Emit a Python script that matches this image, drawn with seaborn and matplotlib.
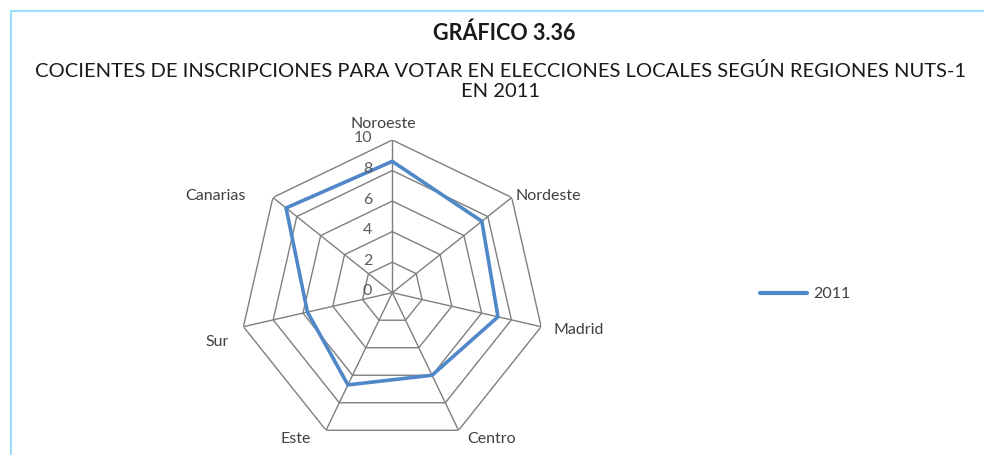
import numpy as np
import matplotlib
matplotlib.use("Agg")
import matplotlib.pyplot as plt
from matplotlib.lines import Line2D
import seaborn as sns
import pandas as pd

# Registration quotients by NUTS-1 region, 2011
regions = ["Noroeste", "Nordeste", "Madrid", "Centro", "Este", "Sur", "Canarias"]
values_2011 = [8.6, 7.5, 7.1, 6.0, 6.7, 5.7, 8.9]
ring_levels = [0, 2, 4, 6, 8, 10]
series_name = "2011"

title = "GRÁFICO 3.36"
subtitle = ("COCIENTES DE INSCRIPCIONES PARA VOTAR EN ELECCIONES LOCALES SEGÚN REGIONES NUTS-1\n"
            "EN 2011")

sns.set_theme(style="white")
plt.rcParams["font.family"] = ["Lato", "DejaVu Sans"]

W, H, DPI = 984, 455, 100
fig = plt.figure(figsize=(W / DPI, H / DPI), dpi=DPI)

# light blue frame along the top and left edges
frame_col = "#8fdcff"
fig.add_artist(Line2D([10.5 / W, 1.0], [1 - 10.5 / H, 1 - 10.5 / H], color=frame_col, lw=1.3))
fig.add_artist(Line2D([10.5 / W, 10.5 / W], [0, 1 - 10.5 / H], color=frame_col, lw=1.3))

# polar axes centred on the radar
cx, cy, R = 392.3, 292.7, 152.7
ax = fig.add_axes([(cx - R) / W, (H - cy - R) / H, 2 * R / W, 2 * R / H], projection="polar")
ax.set_theta_zero_location("N")
ax.set_theta_direction(-1)
ax.set_ylim(0, 10)
ax.grid(False)
ax.spines["polar"].set_visible(False)
ax.set_xticks([])
ax.set_yticks([])
ax.patch.set_alpha(0)

n = len(regions)
angles = np.linspace(0, 2 * np.pi, n, endpoint=False)
closed = np.concatenate([angles, [2 * np.pi]])

grid_col = "#7f7f7f"
for lvl in ring_levels[1:]:
    ax.plot(closed, [lvl] * (n + 1), color=grid_col, lw=1.0, zorder=1)
for a in angles:
    ax.plot([a, a], [0, ring_levels[-1]], color=grid_col, lw=1.0, zorder=1)

df = pd.DataFrame({"theta": closed, "value": values_2011 + values_2011[:1]})
sns.lineplot(data=df, x="theta", y="value", sort=False, estimator=None, ax=ax,
             color="#4f87c9", lw=2.6, zorder=3, legend=False)
ax.set_xlabel("")
ax.set_ylabel("")
ax.set_xticks([])
ax.set_ylim(0, 10)

# radial tick labels next to the first spoke
px = 72 / DPI
for lvl in ring_levels:
    ax.annotate(str(lvl), xy=(0, lvl), xytext=(-20 * px, 1.5 * px), textcoords="offset points",
                ha="right", va="center", fontsize=11.5, color="#595959")

# category labels around the outer ring
label_pos = {
    "Noroeste": ((-9, 16), "center"),
    "Nordeste": ((4, 1), "left"),
    "Madrid": ((12, -3.6), "left"),
    "Centro": ((33, -8.4), "center"),
    "Este": ((-30.4, -8.4), "center"),
    "Sur": ((-15, -15.3), "right"),
    "Canarias": ((-27.7, 1.3), "right"),
}
for a, name in zip(angles, regions):
    (dx, dy), ha = label_pos[name]
    ax.annotate(name, xy=(a, 10), xytext=(dx * px, dy * px), textcoords="offset points",
                ha=ha, va="center", fontsize=11.5, color="#404040", annotation_clip=False)

# titles
fig.text(504 / W, 1 - 33 / H, title, ha="center", va="center", fontsize=15.5,
         fontweight="bold", color="#1a1a1a")
fig.text(500 / W, 1 - 81 / H, subtitle, ha="center", va="center", fontsize=14.5,
         color="#1a1a1a", linespacing=1.2)

# legend
leg = fig.legend(handles=[Line2D([], [], color="#4f87c9", lw=3)], labels=[series_name],
                 loc="center left", bbox_to_anchor=(746 / W, 1 - 294 / H), frameon=False,
                 fontsize=11.5, handlelength=2.9, handletextpad=0.4)
for t in leg.get_texts():
    t.set_color("#404040")

fig.savefig("out.png", dpi=DPI)
